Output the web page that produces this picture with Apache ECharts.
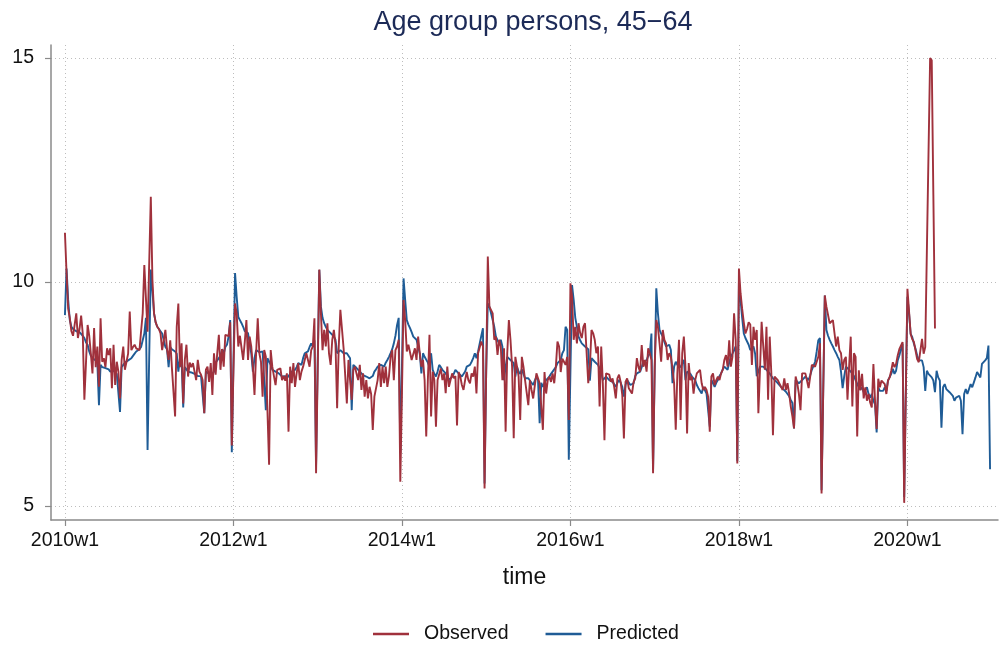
<!DOCTYPE html>
<html><head><meta charset="utf-8">
<script src="https://cdn.jsdelivr.net/npm/echarts@6/dist/echarts.min.js"></script>
<style>html,body{margin:0;padding:0;background:#fff}#c{width:1003px;height:649px}</style>
</head><body><div id="c"></div>
<script>
// ---- data (weekly, Stata %tw: 52 weeks per year; index 0 = 2010w1) ----
const obs2010 = [11.1,10.2,9.4,9.2,8.9,8.8,9.05,9.3,8.75,8.95, 9.25,8.85,7.37,8.2,9.04,8.8,8.4,7.96,8.97,8.1, 8.56,7.66,9.19,8.22,8.3,8.1,8.52,8.37,8.52,7.63, 8.6,7.7,8.22,8.0,7.4,8.26,8.56,8.04,8.22,8.4, 9.34,8.48,8.55,8.6,8.52,8.5,8.48,8.9,9.3,10.38, 10.38,8.89];
const pred2010 = [9.26,10.3,9.6,9.15,9.0,8.95,8.93,8.9,8.9,8.88, 8.85,8.8,8.75,8.65,8.6,8.45,8.35,8.3,8.3,8.25, 8.2,7.25,8.15,8.1,8.1,8.08,8.05,8.05,8.0,8.0, 8.02,7.98,7.95,7.95,7.1,8.1,8.15,8.2,8.22,8.25, 8.28,8.3,8.35,8.4,8.45,8.48,8.5,8.55,8.7,8.85, 9.2,6.25];
const obs2011 = [10.4,11.9,10.05,9.3,9.1,9.0,8.95,8.85,8.48,8.7, 8.93,8.5,8.26,8.7,8.1,8.11,7.0,9.0,9.52,8.1, 8.63,7.29,8.26,8.6,7.89,8.2,8.1,8.19,8.15,7.81, 8.26,8.0,7.93,7.81,7.07,8.04,8.11,7.77,8.19,7.48, 8.41,7.93,8.41,8.82,8.04,8.5,8.11,8.82,8.86,8.79, 9.1,6.35];
const pred2011 = [8.3,10.28,9.8,9.3,9.1,9.0,8.95,8.9,8.85,8.7, 8.55,8.5,8.1,8.55,8.5,8.5,8.45,8.4,8.0,8.3, 8.25,7.2,8.1,8.05,8.0,8.0,7.98,7.95,7.95,7.93, 7.9,7.9,7.9,7.88,7.07,8.0,7.98,7.95,7.95,7.95, 8.0,8.2,8.25,8.3,8.35,8.5,8.4,8.55,8.6,8.78, 9.15,6.2];
const obs2012 = [8.0,9.52,9.3,8.56,8.8,8.82,8.26,8.66,9.15,8.26, 8.78,8.56,8.11,7.48,8.41,9.19,8.41,8.22,7.44,8.48, 8.33,8.33,5.92,8.48,8.11,7.9,7.7,8.04,8.0,8.07, 7.81,7.9,7.8,7.96,6.66,8.11,7.74,8.19,7.66,7.96, 8.19,7.81,8.0,8.11,8.26,8.41,8.37,8.11,8.48,8.56, 9.19,5.73];
const pred2012 = [8.2,10.2,9.67,9.22,9.15,9.08,9.0,8.9,8.88,8.86, 8.9,8.41,8.0,8.3,8.48,8.45,8.43,8.41,8.45,8.48, 7.14,8.3,8.26,8.15,8.04,8.02,8.0,7.98,7.96,7.93, 7.89,7.9,7.9,7.85,7.89,7.95,8.0,8.02,8.04,8.1, 8.19,8.17,8.15,8.3,8.41,8.43,8.45,8.55,8.63,8.56, 8.7,5.9];
const obs2013 = [8.0,10.28,9.3,8.48,8.93,8.56,9.08,8.4,8.15,8.71, 8.93,8.6,7.18,8.56,9.38,9.38,8.52,8.48,7.29,8.26, 7.81,7.37,8.04,8.11,7.95,7.81,8.15,7.59,7.96,7.44, 7.81,7.4,7.66,7.5,6.7,7.44,7.44,7.81,8.19,7.66, 8.11,7.74,8.11,7.66,7.9,8.33,8.48,7.81,8.48,8.56, 8.71,5.54];
const pred2013 = [8.2,10.27,9.45,9.2,9.08,9.0,8.93,8.9,8.86,8.82, 8.78,8.71,8.41,8.45,8.48,8.45,8.41,8.41,8.41,8.41, 8.3,7.14,8.15,8.11,8.08,8.04,8.0,7.96,7.92,7.89, 7.89,7.89,7.85,7.81,7.9,8.0,8.05,8.11,8.13,8.15, 8.13,8.11,8.2,8.26,8.33,8.41,8.5,8.63,8.8,9.04, 9.2,6.18];
const obs2014 = [7.5,9.6,9.15,8.45,8.6,8.56,8.26,8.22,8.52,8.26, 8.78,8.41,8.11,8.26,7.81,6.55,7.81,8.82,7.0,8.0, 7.81,6.77,7.81,7.85,8.07,7.81,7.96,7.52,8.11,7.66, 7.81,7.96,7.85,7.9,6.8,7.99,7.89,7.7,7.59,7.81, 7.99,7.81,7.74,7.96,7.89,8.11,7.51,8.41,8.45,8.67, 8.56,5.39];
const pred2014 = [8.1,10.08,9.6,9.15,9.05,8.97,8.88,8.78,8.75,8.71, 8.56,8.41,7.96,8.41,8.33,8.3,8.2,8.1,8.41,8.04, 7.95,7.89,8.0,8.15,8.1,8.04,8.0,7.96,7.9,7.81, 7.85,7.89,7.95,8.04,8.0,7.96,7.92,7.89,7.89,8.0, 8.11,8.13,8.15,8.22,8.3,8.41,8.3,8.45,8.63,8.8, 8.97,5.5];
const obs2015 = [8.0,10.57,9.45,9.45,9.3,8.71,8.78,8.37,8.71,8.56, 7.81,8.52,6.66,8.41,9.15,8.71,8.11,6.51,8.33,8.37, 7.9,6.92,8.33,8.11,7.81,7.81,7.25,7.81,7.59,7.4, 7.44,7.96,7.93,7.74,7.22,6.7,7.99,7.51,7.81,7.89, 7.77,7.96,7.74,8.11,8.67,8.56,7.99,8.29,8.22,8.15, 8.33,6.92];
const pred2015 = [8.0,9.52,9.45,9.3,9.15,9.0,8.78,8.7,8.63,8.71, 8.56,7.81,8.11,8.33,8.3,8.26,8.22,8.19,7.89,8.11, 8.0,7.95,8.05,7.95,7.85,7.89,7.85,7.81,7.75,7.7, 7.8,7.89,7.81,6.85,7.75,7.66,7.75,7.81,7.85,7.89, 7.95,8.0,8.04,8.1,8.19,8.22,8.26,8.41,8.48,9.0, 8.93,6.03];
const obs2016 = [9.97,9.67,8.71,9.0,8.63,9.08,8.86,8.75,9.0,9.08, 9.11,7.74,8.11,8.93,8.86,8.71,8.41,8.56,7.22,8.56, 7.74,6.47,7.96,7.96,7.93,7.77,7.85,7.66,7.4,7.85, 7.93,7.77,7.48,6.51,7.77,7.85,7.63,7.66,7.51,7.77, 7.85,8.3,8.1,8.0,8.59,8.11,8.26,8.0,8.52,8.41, 8.26,5.73];
const pred2016 = [8.0,9.93,9.6,9.2,9.0,8.78,8.7,8.63,8.6,8.56, 8.56,8.5,7.8,8.3,8.26,8.22,8.19,8.15,8.11,8.0, 7.81,7.85,7.89,7.85,7.81,7.8,7.77,7.72,7.66,7.75, 7.81,7.75,7.66,7.44,7.7,7.81,7.78,7.7,7.7,7.74, 7.9,7.96,7.98,8.0,8.1,8.22,8.22,8.25,8.35,8.41, 8.85,5.8];
const obs2017 = [8.11,9.15,9.0,8.63,8.22,8.93,8.71,8.63,8.26,8.41, 8.33,8.07,7.74,6.7,7.96,8.71,6.92,8.41,8.78,8.11, 6.62,8.19,7.81,7.89,7.51,7.81,7.96,8.0,8.04,7.74, 7.59,7.66,7.59,7.44,6.66,7.89,7.96,7.7,7.81,7.89, 7.81,7.96,8.04,8.26,8.37,8.11,8.7,8.11,8.33,9.3, 8.71,5.95];
const pred2017 = [8.0,9.86,9.3,8.93,8.85,8.78,8.66,8.56,8.58,8.6, 8.48,7.74,8.11,8.22,8.15,8.11,8.1,8.11,8.26,7.81, 8.0,8.04,7.95,7.89,7.85,7.81,7.7,7.63,7.63,7.51, 7.66,7.63,7.51,7.5,6.77,7.81,7.75,7.66,7.75,7.81, 7.9,7.96,8.05,8.11,8.08,8.04,8.2,8.33,8.4,8.48, 8.56,6.0];
const obs2018 = [10.3,9.75,9.4,9.1,8.85,8.95,9.1,9.05,8.15,9.0, 8.71,8.93,7.07,8.04,9.11,9.15,8.04,9.0,7.37,8.78, 7.96,6.58,7.89,7.89,7.81,7.81,7.66,7.59,7.85,7.59, 7.74,7.51,7.22,7.0,6.73,7.89,7.74,7.51,7.14,7.96, 7.99,7.96,7.8,7.63,7.63,8.15,8.19,8.11,8.22,8.33, 8.63,5.28];
const pred2018 = [10.0,9.6,9.2,8.85,8.75,8.71,8.6,8.48,8.5,8.56, 8.4,7.9,8.0,8.11,8.11,8.11,8.08,8.04,8.0,7.96, 7.9,7.85,7.81,7.78,7.74,7.7,7.66,7.62,7.59,7.55, 7.51,7.45,7.37,7.3,6.73,7.81,7.78,7.74,7.78,7.81, 7.85,7.89,7.85,7.81,7.92,8.04,8.13,8.22,8.45,8.7, 8.75,5.35];
const obs2019 = [7.5,9.7,9.45,9.45,9.08,9.08,9.15,9.15,8.56,8.78, 8.48,8.41,8.04,8.26,8.33,7.37,8.11,8.78,7.22,8.41, 8.33,6.55,8.03,7.58,7.95,7.4,7.65,7.35,7.5,7.31, 7.2,8.17,7.35,6.72,7.84,7.65,7.8,7.84,7.72,7.5, 7.8,7.87,8.02,8.21,8.1,8.17,8.36,8.5,8.58,8.66, 5.07,7.5];
const pred2019 = [7.5,9.7,8.93,8.8,8.71,8.63,8.56,8.48,8.41,8.33, 8.26,8.0,7.63,7.9,8.11,8.08,8.04,8.0,7.96,7.9, 7.81,7.78,7.65,7.6,7.65,7.54,7.57,7.65,7.5,7.42, 7.5,7.35,7.27,6.64,7.65,7.57,7.54,7.57,7.65,7.57, 7.8,7.84,7.95,8.06,7.95,8.02,8.25,8.36,8.5,8.62, 5.2,7.6];
const obs2020 = [9.85,9.89,8.84,8.72,8.66,8.47,8.28,8.21,8.21,8.73, 8.4,8.55,10.7,12.85,15.0,14.95,11.95,8.96];
const pred2020 = [9.67,9.3,8.84,8.77,8.62,8.51,8.36,8.25,8.21,8.25, 8.1,7.57,8.02,7.95,7.91,7.87,7.8,7.54,8.02,7.87, 7.8,6.75,7.65,7.72,7.61,7.57,7.54,7.54,7.46,7.35, 7.42,7.39,7.46,7.35,6.6,7.5,7.61,7.5,7.54,7.72, 7.65,7.76,7.87,7.99,7.95,7.87,8.17,8.21,8.25,8.3, 8.58,5.82];

const yTickValues = [5, 10, 15];
const xTickWeeks = [0, 104, 208, 312, 416, 520];
const xTickLabels = ['2010w1', '2012w1', '2014w1', '2016w1', '2018w1', '2020w1'];

const observed = [].concat(obs2010, obs2011, obs2012, obs2013, obs2014, obs2015, obs2016, obs2017, obs2018, obs2019, obs2020);
const predicted = [].concat(pred2010, pred2011, pred2012, pred2013, pred2014, pred2015, pred2016, pred2017, pred2018, pred2019, pred2020);

const FONT = '"Liberation Sans", Arial, Helvetica, sans-serif';
const RED = '#a0313c';
const BLUE = '#1f5c96';
const AXIS = '#8a8a8a';

const chart = echarts.init(document.getElementById('c'), null, { renderer: 'canvas' });
chart.setOption({
  animation: false,
  backgroundColor: '#ffffff',
  title: {
    text: 'Age group persons, 45\u221264',
    left: 528, top: 4, textAlign: 'center',
    textStyle: { fontFamily: FONT, fontSize: 27, fontWeight: 'normal', color: '#1c2a57' }
  },
  legend: {
    data: ['Observed', 'Predicted'],
    left: 368, top: 619,
    icon: 'rect', itemWidth: 36, itemHeight: 2.5, itemGap: 37,
    textStyle: { fontFamily: FONT, fontSize: 19.5, color: '#111', padding: [0, 0, 0, 10] }
  },
  grid: { left: 51, right: 5, top: 45, bottom: 129 },
  xAxis: {
    type: 'value', min: -8.6, max: 575.9,
    name: 'time', nameLocation: 'middle', nameGap: 46,
    nameTextStyle: { fontFamily: FONT, fontSize: 23, color: '#111' },
    axisLine: { show: true, onZero: false, lineStyle: { color: AXIS, width: 1.5 } },
    axisTick: { show: true, customValues: xTickWeeks, length: 6, lineStyle: { color: AXIS, width: 1.2 } },
    axisLabel: {
      customValues: xTickWeeks, margin: 11,
      fontFamily: FONT, fontSize: 19.5, color: '#111',
      formatter: function (v) { const i = xTickWeeks.indexOf(Math.round(v)); return i >= 0 ? xTickLabels[i] : ''; }
    },
    splitLine: { show: true, lineStyle: { color: '#bdbdbd', width: 1, type: [1, 3] } }
  },
  yAxis: {
    type: 'value', min: 4.6875, max: 15.29,
    axisLine: { show: true, onZero: false, lineStyle: { color: AXIS, width: 1.5 } },
    axisTick: { show: true, customValues: yTickValues, length: 6, lineStyle: { color: AXIS, width: 1.2 } },
    axisLabel: { customValues: yTickValues, margin: 17, fontFamily: FONT, fontSize: 19.5, color: '#111' },
    splitLine: { show: true, lineStyle: { color: '#bdbdbd', width: 1, type: [1, 3] } }
  },
  series: [
    {
      name: 'Predicted', type: 'line', showSymbol: false, symbol: 'none',
      data: predicted.map((v, i) => [i, v]),
      lineStyle: { color: BLUE, width: 1.9 }, itemStyle: { color: BLUE }, z: 2
    },
    {
      name: 'Observed', type: 'line', showSymbol: false, symbol: 'none',
      data: observed.map((v, i) => [i, v]),
      lineStyle: { color: RED, width: 1.9 }, itemStyle: { color: RED }, z: 3
    }
  ]
});
</script></body></html>
